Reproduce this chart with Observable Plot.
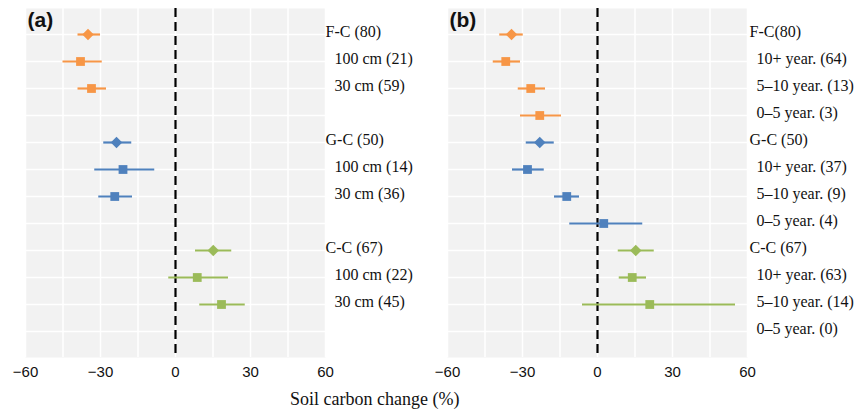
<!DOCTYPE html>
<html>
<head>
<meta charset="utf-8">
<script src="https://cdn.jsdelivr.net/npm/d3@7"></script>
<script src="https://cdn.jsdelivr.net/npm/@observablehq/plot@0.6"></script>
<style>
  body { margin: 0; background: #fff; }
  #wrap { position: relative; width: 856px; height: 416px; overflow: hidden; }
  #pa, #pb { position: absolute; top: 0; }
  #pa { left: 0; }
  #pb { left: 428px; }
  #xlabel { position: absolute; left: 290px; top: 389px; font: 18px "Liberation Serif", serif; color: #111; white-space: nowrap; }
</style>
</head>
<body>
<div id="wrap">
  <div id="pa"></div>
  <div id="pb"></div>
  <div id="xlabel">Soil carbon change (%)</div>
</div>
<script>
// ---- Data ----
const groupColors = ["#F79646", "#4F81BD", "#9BBB59"];
const groupNames = ["F-C", "G-C", "C-C"];
const xTicks = [-60, -30, 0, 30, 60];
const gridTicks = [-60, -45, -30, -15, 0, 15, 30, 45, 60];

// Panel (a): by soil depth
const labelsA = ["F-C (80)", "100 cm (21)", "30 cm (59)", "", "G-C (50)", "100 cm (14)", "30 cm (36)", "", "C-C (67)", "100 cm (22)", "30 cm (45)", ""];
const groupA  = ["F-C", "F-C", "F-C", null, "G-C", "G-C", "G-C", null, "C-C", "C-C", "C-C", null];
const kindA   = ["total", "sub", "sub", null, "total", "sub", "sub", null, "total", "sub", "sub", null];
const meanA   = [-35.0, -38.0, -33.6, null, -23.6, -21.0, -24.3, null, 15.1, 8.7, 18.4, null];
const lowA    = [-39.0, -45.0, -39.0, null, -28.7, -32.3, -30.7, null, 8.0, -2.7, 9.7, null];
const highA   = [-30.0, -29.3, -27.6, null, -17.5, -8.3, -17.2, null, 22.5, 21.2, 27.9, null];

// Panel (b): by years since conversion
const labelsB = ["F-C(80)", "10+ year. (64)", "5\u201310 year. (13)", "0\u20135 year. (3)", "G-C (50)", "10+ year. (37)", "5\u201310 year. (9)", "0\u20135 year. (4)", "C-C (67)", "10+ year. (63)", "5\u201310 year. (14)", "0\u20135 year. (0)"];
const groupB  = ["F-C", "F-C", "F-C", "F-C", "G-C", "G-C", "G-C", "G-C", "C-C", "C-C", "C-C", "C-C"];
const kindB   = ["total", "sub", "sub", "sub", "total", "sub", "sub", "sub", "total", "sub", "sub", "sub"];
const meanB   = [-34.4, -36.7, -26.7, -23.1, -23.1, -28.0, -12.3, 2.5, 15.3, 13.9, 20.9, null];
const lowB    = [-39.1, -41.7, -31.7, -30.8, -28.5, -34.0, -17.2, -11.1, 8.3, 8.7, -6.0, null];
const highB   = [-29.7, -30.8, -20.8, -14.4, -17.3, -21.3, -7.2, 18.1, 22.7, 19.6, 55.2, null];

function table(labels, group, kind, mean, low, high) {
  return labels.map((label, i) => ({row: i, label, group: group[i], kind: kind[i], mean: mean[i], lo: low[i], hi: high[i]}));
}

function panel(rows, tag, marginLeft, marginRight, groupDx) {
  const pts = rows.filter(d => d.mean != null);
  const serif = "Liberation Serif";
  return Plot.plot({
    width: 428,
    height: 385,
    marginTop: 8,
    marginBottom: 28,
    marginLeft,
    marginRight,
    style: {fontFamily: "Liberation Sans, Arial, sans-serif", fontSize: "15px", color: "#111", background: "transparent"},
    x: {domain: [-60, 60]},
    y: {type: "point", domain: rows.map(d => d.row), padding: 0.93, axis: null},
    color: {domain: groupNames, range: groupColors},
    marks: [
      Plot.frame({fill: "#f2f2f2", stroke: null}),
      Plot.gridX({ticks: gridTicks, stroke: "white", strokeOpacity: 1, strokeWidth: 1.5}),
      Plot.gridY({stroke: "white", strokeOpacity: 1, strokeWidth: 1.5}),
      Plot.ruleX([0], {stroke: "#000", strokeWidth: 2.2, strokeDasharray: "9,5"}),
      Plot.ruleY(pts, {y: "row", x1: "lo", x2: "hi", stroke: "group", strokeWidth: 2.2}),
      Plot.dot(pts.filter(d => d.kind === "total"), {x: "mean", y: "row", fill: "group", symbol: "diamond2", r: 5.2, stroke: null}),
      Plot.dot(pts.filter(d => d.kind === "sub"), {x: "mean", y: "row", fill: "group", symbol: "square2", r: 5.6, stroke: null}),
      Plot.text(rows.filter(d => d.kind === "total"), {y: "row", text: "label", frameAnchor: "right", textAnchor: "start", dx: groupDx, dy: -3, fontFamily: serif, fontSize: 16, fill: "#111"}),
      Plot.text(rows.filter(d => d.kind === "sub"), {y: "row", text: "label", frameAnchor: "right", textAnchor: "start", dx: 9, dy: -3, fontFamily: serif, fontSize: 16, fill: "#111"}),
      Plot.text([tag], {frameAnchor: "top-left", text: d => d, textAnchor: "start", lineAnchor: "middle", dx: 2, dy: 12, fontWeight: "bold", fontSize: 21, fontFamily: "Liberation Sans, Arial, sans-serif", fill: "#111"}),
      Plot.axisX({ticks: xTicks, tickSize: 0, tickPadding: 9, label: null})
    ]
  });
}

document.getElementById("pa").append(panel(table(labelsA, groupA, kindA, meanA, lowA, highA), "(a)", 25, 103, 0));
document.getElementById("pb").append(panel(table(labelsB, groupB, kindB, meanB, lowB, highB), "(b)", 19, 109, 2));
</script>
</body>
</html>
